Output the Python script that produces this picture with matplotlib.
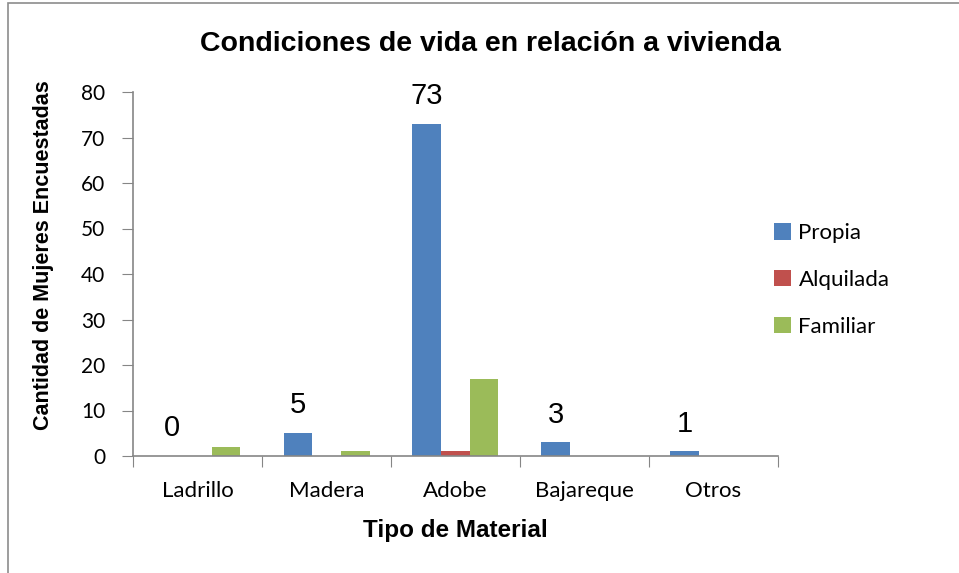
import numpy as np
import matplotlib
matplotlib.use("Agg")
import matplotlib.pyplot as plt
from matplotlib.patches import Rectangle

categories = ["Ladrillo", "Madera", "Adobe", "Bajareque", "Otros"]
propia = [0, 5, 73, 3, 1]
alquilada = [0, 0, 1, 0, 0]
familiar = [2, 1, 17, 0, 0]
series_names = ["Propia", "Alquilada", "Familiar"]
colors = ["#4f81bd", "#c0504d", "#9bbb59"]


def main():
    fig = plt.figure(figsize=(9.59, 5.73), dpi=100)
    ax = fig.add_axes([133 / 959, 1 - 456 / 573, 645 / 959, 364 / 573])

    # outer chart frame (only top/left visible in the crop)
    fig.patches.append(Rectangle((8 / 959, -0.1), 1.2, 1 - 3 / 573 + 0.1,
                                 transform=fig.transFigure, fill=False,
                                 edgecolor="#8c8c8c", linewidth=1.2))

    x = np.arange(len(categories))
    w = 1 / 4.5
    for i, (vals, name, col) in enumerate(zip([propia, alquilada, familiar], series_names, colors)):
        ax.bar(x + (i - 1) * w, vals, w, color=col, label=name)

    # data labels above Propia bars
    for xi, v in zip(x - w, propia):
        ax.annotate(str(v), (xi, v), xytext=(2 if v == 0 else 0, 20), textcoords="offset points",
                    ha="center", va="center", fontsize=21, family="Liberation Sans")

    ax.set_xlim(-0.5, len(categories) - 0.5)
    ax.set_ylim(0, 80)
    ax.set_yticks(range(0, 81, 10))
    ax.set_xticks(np.arange(-0.5, len(categories), 1))
    ax.set_xticklabels([])
    ax.set_xticks(x, minor=True)
    ax.set_xticklabels(categories, minor=True, fontsize=16, family="Lato")
    ax.tick_params(axis="x", which="minor", length=0, pad=18)
    ax.tick_params(axis="x", which="major", length=8, color="#868686")
    ax.tick_params(axis="y", length=8, color="#868686", labelsize=15, pad=12)
    for lbl in ax.get_yticklabels():
        lbl.set_family("Lato")

    for s in ["top", "right"]:
        ax.spines[s].set_visible(False)
    for s in ["left", "bottom"]:
        ax.spines[s].set_color("#868686")
        ax.spines[s].set_linewidth(1.2)

    fig.text(490 / 959, 1 - 51 / 573, "Condiciones de vida en relación a vivienda",
             ha="center", va="baseline", fontsize=20.5, fontweight="bold", family="Liberation Sans")
    fig.text(455 / 959, 1 - 530 / 573, "Tipo de Material",
             ha="center", va="center", fontsize=17.5, fontweight="bold", family="Liberation Sans")
    fig.text(44 / 959, 1 - 255 / 573, "Cantidad de Mujeres Encuestadas", rotation=90,
             ha="center", va="center", fontsize=15.5, fontweight="bold", family="Liberation Sans")

    ax.legend(frameon=False, loc="center left", bbox_to_anchor=(754 / 959, 1 - 280 / 573),
              bbox_transform=fig.transFigure, prop={"family": "Lato", "size": 16},
              handlelength=0.75, handleheight=0.75, handletextpad=0.35, labelspacing=1.2)

    fig.savefig("out.png", dpi=100)


if __name__ == "__main__":
    main()
